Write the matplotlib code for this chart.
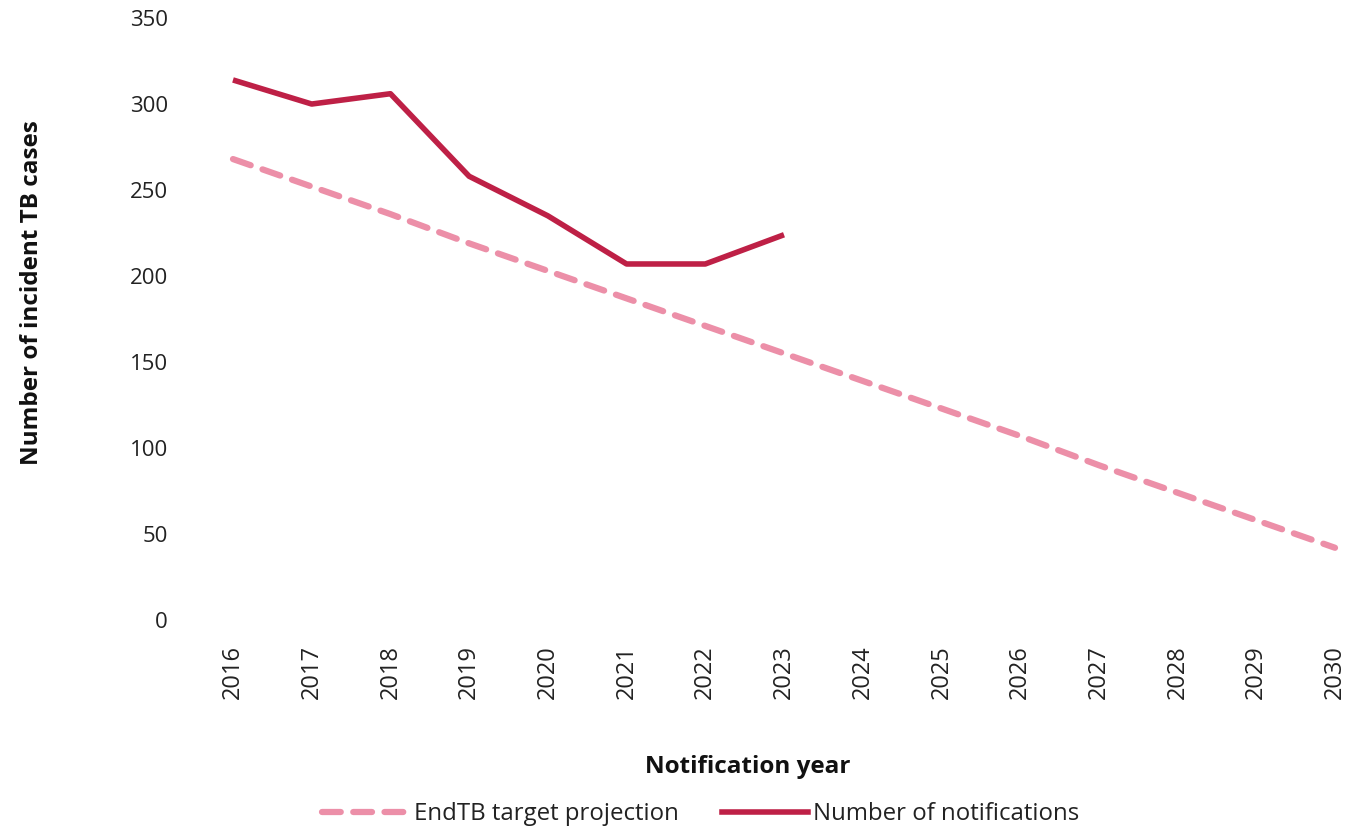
import matplotlib.pyplot as plt
from matplotlib.lines import Line2D

plt.rcParams['font.family'] = ['Open Sans', 'DejaVu Sans']

# data
years = [2016, 2017, 2018, 2019, 2020, 2021, 2022, 2023, 2024, 2025, 2026, 2027, 2028, 2029, 2030]
notif_years = [2016, 2017, 2018, 2019, 2020, 2021, 2022, 2023]
notifications = [314, 300, 306, 258, 235, 207, 207, 224]
projection = [268, 252, 236, 219, 203, 187, 171, 155, 139, 123, 107, 90, 74, 58, 42]

proj_col = '#EC8FA8'
notif_col = '#BE2046'

fig = plt.figure(figsize=(13.53, 8.31), dpi=100)
ax = fig.add_axes([0.1722, 0.2539, 0.8145, 0.7244])

ax.plot(years, projection, color=proj_col, lw=4.5, ls=(0, (3, 2)),
        dash_capstyle='round', clip_on=False)
ax.plot(notif_years, notifications, color=notif_col, lw=4, clip_on=False,
        solid_capstyle='butt')

ax.set_xlim(2016, 2030)
ax.set_ylim(0, 350)
ax.set_yticks(range(0, 351, 50))
ax.set_xticks(years)
ax.set_xticklabels([str(y) for y in years], rotation=90, fontsize=17, color='#222222')
for t in ax.get_yticklabels():
    t.set_fontsize(16)
    t.set_color('#222222')
ax.tick_params(axis='both', length=0)
ax.tick_params(axis='y', pad=47)
ax.tick_params(axis='x', pad=18)
for s in ax.spines.values():
    s.set_visible(False)

fig.text(0.024, 0.648, 'Number of incident TB cases', rotation=90, ha='center', va='center',
         fontsize=17.5, fontweight='bold', color='#111111')
fig.text(0.553, 0.077, 'Notification year', ha='center', va='center',
         fontsize=17.5, fontweight='bold', color='#111111')

handles = [Line2D([], [], color=proj_col, lw=4.5, ls=(0, (3, 2)), dash_capstyle='round'),
           Line2D([], [], color=notif_col, lw=4)]
fig.legend(handles, ['EndTB target projection', 'Number of notifications'],
           loc='center', bbox_to_anchor=(0.518, 0.02), ncol=2, frameon=False,
           fontsize=17.3, handlelength=3.6, handletextpad=0.2, columnspacing=1.8,
           labelcolor='#222222')

fig.savefig('out.png', dpi=100)
